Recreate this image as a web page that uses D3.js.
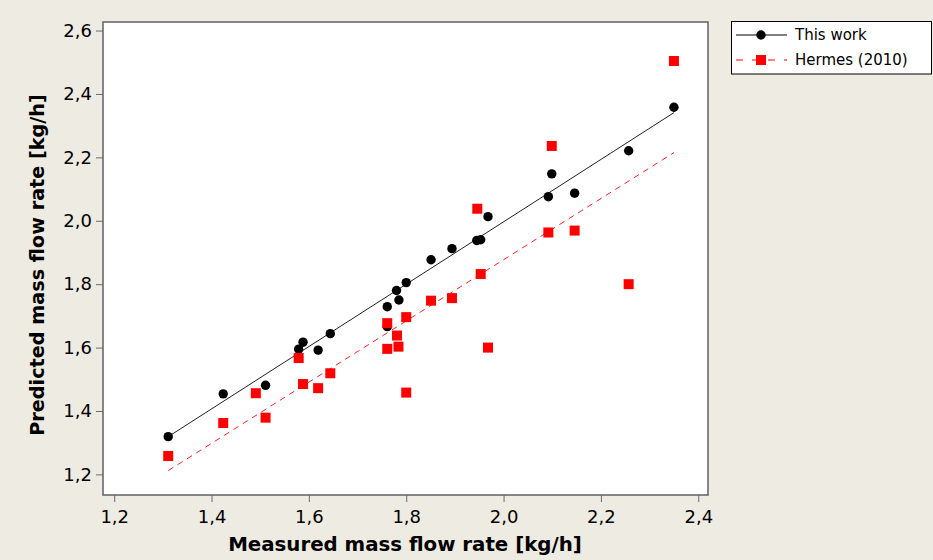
<!DOCTYPE html>
<html>
<head>
<meta charset="utf-8">
<script src="https://cdn.jsdelivr.net/npm/d3@7"></script>
<style>
  html, body { margin: 0; padding: 0; background: #eeebe2; }
  svg { display: block; }
</style>
</head>
<body>
<svg id="chart" width="933" height="560"></svg>
<script>
// ---- Data ----
const xTicks = [1.2, 1.4, 1.6, 1.8, 2.0, 2.2, 2.4];
const yTicks = [1.2, 1.4, 1.6, 1.8, 2.0, 2.2, 2.4, 2.6];

const seriesNames = ["This work", "Hermes (2010)"];

const thisWorkX = [1.311, 1.424, 1.511, 1.579, 1.588, 1.619, 1.644, 1.761, 1.761, 1.780, 1.785,
                   1.800, 1.851, 1.894, 1.945, 1.953, 1.968, 2.092, 2.099, 2.146, 2.257, 2.350];
const thisWorkY = [1.319, 1.454, 1.481, 1.595, 1.617, 1.592, 1.644, 1.666, 1.729, 1.780, 1.750,
                   1.805, 1.877, 1.912, 1.938, 1.940, 2.013, 2.076, 2.148, 2.087, 2.221, 2.358];

const hermesX = [1.311, 1.424, 1.491, 1.511, 1.579, 1.588, 1.619, 1.644, 1.761, 1.761, 1.781, 1.784,
                 1.800, 1.800, 1.851, 1.894, 1.946, 1.953, 1.968, 2.092, 2.099, 2.146, 2.257, 2.350];
const hermesY = [1.258, 1.362, 1.456, 1.379, 1.567, 1.485, 1.472, 1.519, 1.677, 1.596, 1.638, 1.603,
                 1.696, 1.458, 1.748, 1.756, 2.038, 1.832, 1.600, 1.963, 2.236, 1.969, 1.800, 2.504];

// fitted lines (endpoints)
const fitX = [1.311, 2.350];
const thisWorkFitY = [1.319, 2.341];
const hermesFitY = [1.212, 2.215];

// ---- Layout ----
const svg = d3.select("#chart");
const frame = { left: 103, right: 708, top: 22, bottom: 495 };

const x = d3.scaleLinear().domain([1.177, 2.420]).range([frame.left, frame.right]);
const y = d3.scaleLinear().domain([1.135, 2.627]).range([frame.bottom, frame.top]);
const fmt = d => d3.format(".1f")(d).replace(".", ",");

// plot area
svg.append("rect")
  .attr("x", frame.left).attr("y", frame.top)
  .attr("width", frame.right - frame.left).attr("height", frame.bottom - frame.top)
  .attr("fill", "#ffffff");

// axes
const xAxis = svg.append("g")
  .attr("transform", `translate(0,${frame.bottom})`)
  .call(d3.axisBottom(x).tickValues(xTicks).tickFormat(fmt).tickSize(7).tickPadding(8));
const yAxis = svg.append("g")
  .attr("transform", `translate(${frame.left},0)`)
  .call(d3.axisLeft(y).tickValues(yTicks).tickFormat(fmt).tickSize(7).tickPadding(4));

[xAxis, yAxis].forEach(g => {
  g.select(".domain").remove();
  g.selectAll(".tick line").attr("stroke", "#6a6a6a").attr("stroke-width", 1);
  g.selectAll(".tick text")
    .attr("fill", "#000")
    .style("font-family", "'DejaVu Sans', sans-serif")
    .style("font-size", "18px");
});

// frame border
svg.append("rect")
  .attr("x", frame.left).attr("y", frame.top)
  .attr("width", frame.right - frame.left).attr("height", frame.bottom - frame.top)
  .attr("fill", "none").attr("stroke", "#6a6a6a").attr("stroke-width", 1.6);

// fitted lines
const line = d3.line().x(d => x(d[0])).y(d => y(d[1]));
svg.append("path")
  .datum(fitX.map((v, i) => [v, thisWorkFitY[i]]))
  .attr("d", line).attr("fill", "none")
  .attr("stroke", "#222").attr("stroke-width", 1);
svg.append("path")
  .datum(fitX.map((v, i) => [v, hermesFitY[i]]))
  .attr("d", line).attr("fill", "none")
  .attr("stroke", "#ff2020").attr("stroke-width", 1).attr("stroke-dasharray", "6,5");

// markers: circles first, squares on top
svg.append("g").selectAll("circle")
  .data(thisWorkX.map((v, i) => [v, thisWorkY[i]]))
  .join("circle")
  .attr("cx", d => x(d[0])).attr("cy", d => y(d[1]))
  .attr("r", 4.7).attr("fill", "#000");

const sq = 10;
svg.append("g").selectAll("rect")
  .data(hermesX.map((v, i) => [v, hermesY[i]]))
  .join("rect")
  .attr("x", d => x(d[0]) - sq / 2).attr("y", d => y(d[1]) - sq / 2)
  .attr("width", sq).attr("height", sq).attr("fill", "#ff0000");

// axis titles, fitted to the reference width
function fitText(sel, target, base) {
  const w = sel.node().getComputedTextLength();
  sel.style("font-size", (base * target / w) + "px");
}
const xTitle = svg.append("text")
  .attr("x", 405).attr("y", 551)
  .attr("text-anchor", "middle")
  .style("font-family", "'DejaVu Sans', sans-serif")
  .style("font-weight", "bold").style("font-size", "20px")
  .text("Measured mass flow rate [kg/h]");
fitText(xTitle, 354, 20);

const yTitle = svg.append("text")
  .attr("transform", "translate(44,265) rotate(-90)")
  .attr("text-anchor", "middle")
  .style("font-family", "'DejaVu Sans', sans-serif")
  .style("font-weight", "bold").style("font-size", "20px")
  .text("Predicted mass flow rate [kg/h]");
fitText(yTitle, 342, 20);

// legend
const lg = svg.append("g");
lg.append("rect")
  .attr("x", 731.5).attr("y", 21.5).attr("width", 200).attr("height", 52.5)
  .attr("fill", "#ffffff").attr("stroke", "#000").attr("stroke-width", 1);
const rows = [35, 60];
// This work
lg.append("line").attr("x1", 736).attr("x2", 787).attr("y1", rows[0]).attr("y2", rows[0])
  .attr("stroke", "#000").attr("stroke-width", 1);
lg.append("circle").attr("cx", 761).attr("cy", rows[0]).attr("r", 4.7).attr("fill", "#000");
// Hermes
lg.append("line").attr("x1", 736).attr("x2", 787).attr("y1", rows[1]).attr("y2", rows[1])
  .attr("stroke", "#ff0000").attr("stroke-width", 1).attr("stroke-dasharray", "7,9");
lg.append("rect").attr("x", 756).attr("y", rows[1] - 5).attr("width", 10).attr("height", 10)
  .attr("fill", "#ff0000");
seriesNames.forEach((name, i) => {
  lg.append("text")
    .attr("x", 795).attr("y", rows[i]).attr("dy", "0.36em")
    .style("font-family", "'DejaVu Sans', sans-serif")
    .style("font-size", "15px").attr("fill", "#000")
    .text(name);
});
</script>
</body>
</html>
